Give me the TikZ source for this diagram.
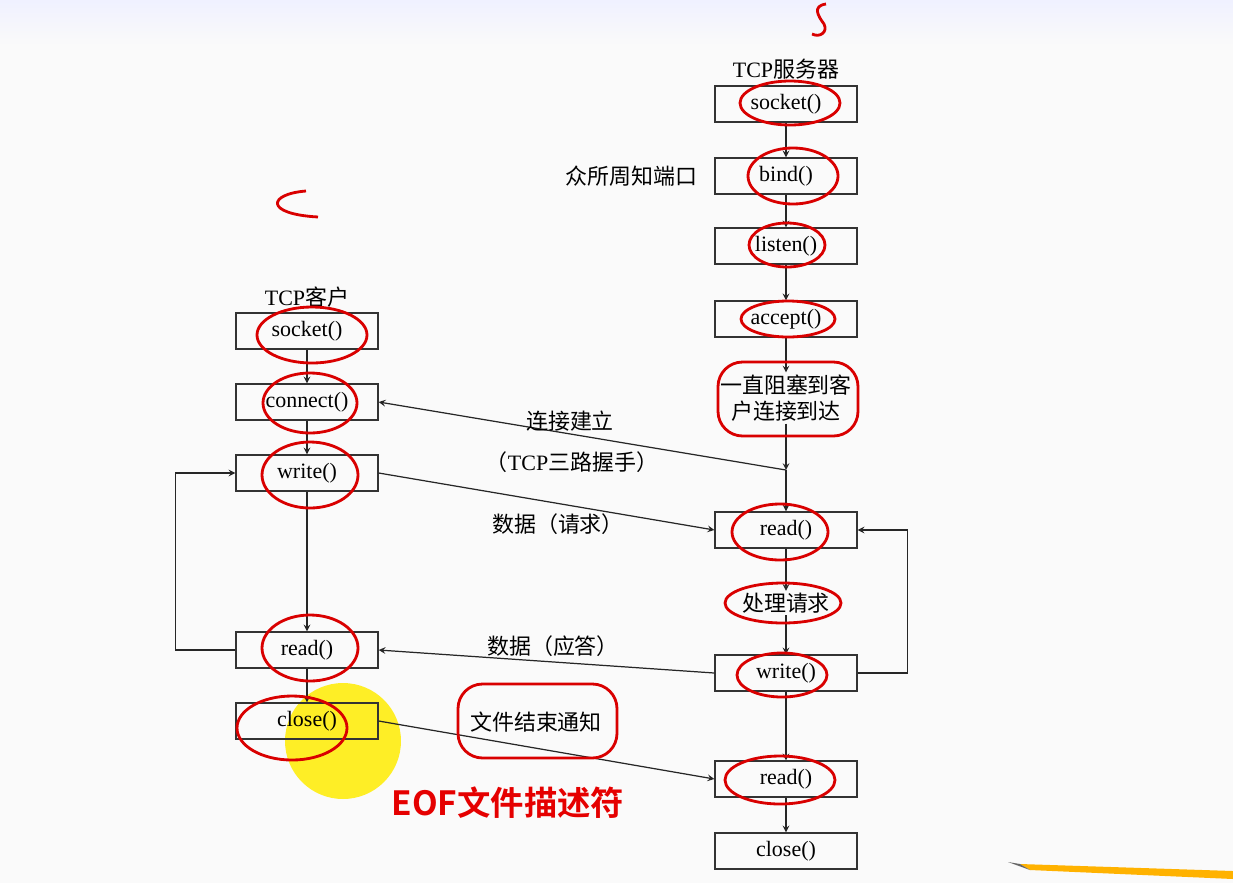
\documentclass[tikz,border=0pt]{standalone}
\usepackage{fontspec}
\setmainfont{Liberation Serif}
\newfontfamily\cjk[BoldFont={Noto Sans CJK SC Bold}]{Noto Sans CJK SC}
\usetikzlibrary{arrows.meta, positioning}

\begin{document}
\begin{tikzpicture}[x=0.02cm, y=-0.02cm, >=stealth,
    font=\fontsize{12.5}{15}\selectfont,
    box/.style={draw=black!80, line width=0.8pt, minimum width=2.84cm,
        minimum height=0.72cm, inner sep=0pt},
    note/.style={font=\fontsize{12.5}{15}\selectfont\cjk, inner sep=1pt},
    ring/.style={red!85!black, line width=1.6pt},
    flow/.style={->, black!85, line width=0.7pt}]
    \useasboundingbox (0,0) rectangle (1233,883);
    \fill[black!2] (0,0) rectangle (1233,883);
    \shade[top color=cyan!8!blue!6, bottom color=black!2] (0,0) rectangle (1233,45);

    % yellow marker under the client close()
    \fill[yellow!95!orange, opacity=0.85] (343,741) circle [radius=1.16cm];

    % server side
    \node (stitle) at (786,69) {TCP{\cjk 服务器}};
    \node[box] (ssock) at (786,104) {socket()};
    \node[box] (sbind) at (786,176) {bind()};
    \node[note, left=0.3cm of sbind] (port) {众所周知端口};
    \node[box] (slisten) at (786,246) {listen()};
    \node[box] (saccept) at (786,319) {accept()};
    \node[note, align=center] (block) at (786,398) {一直阻塞到客\\户连接到达};
    \coordinate (join) at (786,470);
    \node[box] (sread) at (786,530) {read()};
    \node[note] (proc) at (786,603) {处理请求};
    \node[box] (swrite) at (786,673) {write()};
    \node[box] (sread2) at (786,779) {read()};
    \node[box] (sclose) at (786,851) {close()};

    % client side
    \node (ctitle) at (307,297) {TCP{\cjk 客户}};
    \node[box] (csock) at (307,331) {socket()};
    \node[box] (cconn) at (307,402) {connect()};
    \node[box] (cwrite) at (307,473) {write()};
    \node[box] (cread) at (307,650) {read()};
    \node[box] (cclose) at (307,721) {close()};

    % vertical flow
    \draw[flow] (ssock) -- (sbind);
    \draw[flow] (sbind) -- (slisten);
    \draw[flow] (slisten) -- (saccept);
    \draw[flow] (saccept) -- (block);
    \draw[flow] (block) -- (join);
    \draw[flow] (join) -- (sread);
    \draw[flow] (sread) -- (proc);
    \draw[flow] (proc) -- (swrite);
    \draw[flow] (swrite) -- (sread2);
    \draw[flow] (sread2) -- (sclose);
    \draw[flow] (csock) -- (cconn);
    \draw[flow] (cconn) -- (cwrite);
    \draw[flow] (cwrite) -- (cread);
    \draw[flow] (cread) -- (cclose);

    % loops
    \draw[flow] (swrite.east) -- ++(50,0) |- (sread.east);
    \draw[flow] (cread.west) -- ++(-60,0) |- (cwrite.west);

    % messages between the two sides
    \draw[flow] (join) -- (cconn.east);
    \draw[flow] (cwrite.east) -- (sread.west);
    \draw[flow] (swrite.west) -- (cread.east);
    \draw[flow] (cclose.east) -- (sread2.west);
    \node[note] (lconn) at (570,421) {连接建立};
    \node[note] (lshake) at (572,462) {（{\rmfamily TCP}三路握手）};
    \node[note] (lreq) at (558,524) {数据（请求）};
    \node[note] (lrep) at (553,646) {数据（应答）};
    \node[note] (leof) at (536,722) {文件结束通知};

    % red pen marks
    \draw[ring] (790,103) ellipse (50 and 22);
    \draw[ring] (793,176) ellipse (45 and 28);
    \draw[ring] (787,245) ellipse (38 and 22);
    \draw[ring] (788,319) ellipse (47 and 18);
    \draw[ring, rounded corners=14pt] (718,362) rectangle (858,436);
    \draw[ring] (780,532) ellipse (48 and 28);
    \draw[ring] (783,603) ellipse (58 and 20);
    \draw[ring] (782,675) ellipse (45 and 22);
    \draw[ring] (780,780) ellipse (55 and 24);
    \draw[ring] (312,335) ellipse (55 and 28);
    \draw[ring] (310,403) ellipse (47 and 30);
    \draw[ring] (310,475) ellipse (48 and 33);
    \draw[ring] (310,648) ellipse (48 and 33);
    \draw[ring] (292,728) ellipse (55 and 32);
    \draw[ring, rounded corners=14pt] (458,684) rectangle (617,758);
    \draw[ring] (306,191) .. controls (268,194) and (264,214) .. (318,217);
    \draw[ring] (826,4) .. controls (812,6) and (818,16) .. (824,24)
        .. controls (828,32) and (820,38) .. (812,34);

    \node[text=red!90!black, font=\fontsize{19}{22}\selectfont\cjk\bfseries]
        (eof) at (508,803) {EOF文件描述符};

    % pencil in the corner
    \fill[orange!60!yellow] (1020,864) -- (1233,871) -- (1233,879) -- (1030,870) -- cycle;
    \fill[black!60] (1008,862) -- (1020,864) -- (1030,870) -- cycle;
\end{tikzpicture}
\end{document}
